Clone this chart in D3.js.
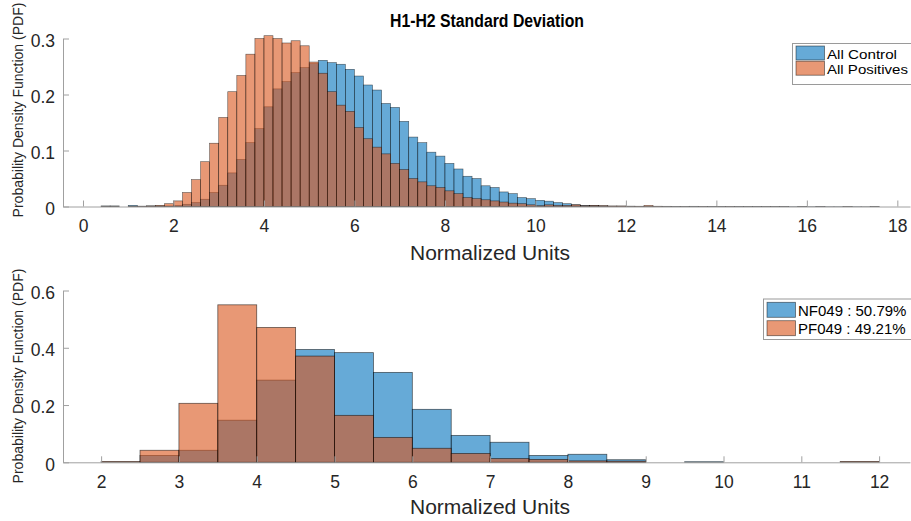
<!DOCTYPE html>
<html>
<head>
<meta charset="utf-8">
<script src="https://cdn.jsdelivr.net/npm/d3@7"></script>
<style>
  html, body { margin: 0; padding: 0; background: #fff; }
  svg { display: block; font-family: "Liberation Sans", Arial, Helvetica, sans-serif; }
</style>
</head>
<body>
<svg id="chart" width="911" height="521"></svg>
<script>
// ---------------- DATA ----------------
const titleText = "H1-H2 Standard Deviation";
const yLabelText = "Probability Density Function (PDF)";
const xLabelText = "Normalized Units";

// Top histogram: bin edges (width 0.2)
const topBinEdges = [0.4,0.6,0.8,1.0,1.2,1.4,1.6,1.8,2.0,2.2,2.4,2.6,2.8,3.0,3.2,3.4,3.6,3.8,4.0,4.2,4.4,4.6,4.8,5.0,5.2,5.4,5.6,5.8,6.0,6.2,6.4,6.6,6.8,7.0,7.2,7.4,7.6,7.8,8.0,8.2,8.4,8.6,8.8,9.0,9.2,9.4,9.6,9.8,10.0,10.2,10.4,10.6,10.8,11.0,11.2,11.4,11.6,11.8,12.0,12.2,12.4,12.6,12.8,13.0,13.2,13.4,13.6,13.8,14.0,14.2,14.4,14.6,14.8,15.0,15.2,15.4,15.6,15.8,16.0,16.2,16.4,16.6,16.8,17.0,17.2,17.4,17.6];
const topControl = [0.001,0.001,0,0.002,0.0005,0.001,0.001,0.001,0.002,0.004,0.007,0.013,0.025,0.038,0.060,0.084,0.114,0.139,0.178,0.210,0.223,0.239,0.248,0.255,0.261,0.257,0.254,0.245,0.233,0.217,0.208,0.184,0.177,0.152,0.124,0.114,0.097,0.090,0.077,0.067,0.054,0.050,0.037,0.034,0.026,0.023,0.016,0.014,0.011,0.0095,0.007,0.005,0.003,0.002,0.002,0.001,0.0005,0.0005,0.0005,0.0003,0.0003,0.0003,0.0004,0.0003,0.0003,0.0004,0.0002,0.0003,0.0003,0.0002,0.0003,0.0002,0.0003,0.0002,0.0002,0.0003,0.0002,0.0002,0.0002,0.0003,0.0002,0.0002,0.0001,0.0002,0.0001,0.0002];
const topPositives = [0.0005,0.0005,0,0.0005,0.0005,0.001,0.002,0.005,0.010,0.025,0.048,0.080,0.113,0.159,0.205,0.234,0.272,0.300,0.305,0.300,0.292,0.296,0.287,0.258,0.238,0.205,0.181,0.170,0.141,0.121,0.106,0.094,0.077,0.066,0.050,0.044,0.037,0.034,0.028,0.023,0.016,0.014,0.012,0.010,0.008,0.006,0.005,0.003,0.0015,0.003,0.002,0.002,0.003,0.0015,0.002,0.0015,0.001,0.001,0.0005,0.0005,0.002,0.0005,0.0003,0.0002,0.0002,0.0001,0.0002,0.0001,0.0001,0.0002,0.0001,0.0001,0.0001,0.0001,0.0001,0.0001,0,0.0001,0,0.0001,0,0,0.0001,0,0,0.0001];
const topSeriesNames = ["All Control", "All Positives"];
const topXTicks = [0,2,4,6,8,10,12,14,16,18];
const topYTicks = [0,0.1,0.2,0.3];
const topXLim = [-0.442, 18.28];
const topYLim = [0, 0.3];

// Bottom histogram: bin edges (width 0.5)
const botBinEdges = [2,2.5,3,3.5,4,4.5,5,5.5,6,6.5,7,7.5,8,8.5,9,9.5,10,10.5,11,11.5,12];
const botNF = [0,0.024,0.042,0.147,0.287,0.394,0.383,0.314,0.185,0.094,0.070,0.024,0.028,0.009,0,0.002,0,0,0,0];
const botPF = [0.003,0.042,0.206,0.550,0.471,0.371,0.164,0.087,0.049,0.031,0.013,0.010,0.005,0.004,0,0,0,0,0,0.003];
const botSeriesNames = ["NF049 : 50.79%", "PF049 : 49.21%"];
const botXTicks = [2,3,4,5,6,7,8,9,10,11,12];
const botYTicks = [0,0.2,0.4,0.6];
const botXLim = [1.51, 12.397];
const botYLim = [0, 0.6];

// ---------------- STYLE ----------------
const blueFill = "rgb(0,114,189)";
const orangeFill = "rgb(217,83,25)";
const faceAlpha = 0.6;
const axisColor = "#a0a0a0";
const textColor = "#262626";
const tickFont = 17.5;

const svg = d3.select("#chart");

function drawPanel(cfg) {
  const x = d3.scaleLinear().domain(cfg.xlim).range([cfg.left, cfg.right]);
  const y = d3.scaleLinear().domain(cfg.ylim).range([cfg.bottom, cfg.top]);
  const g = svg.append("g");

  function bars(values, fill, sw) {
    const data = values.map((v, i) => ({v, x0: cfg.edges[i], x1: cfg.edges[i + 1]})).filter(d => d.v > 0);
    g.append("g").selectAll("rect").data(data).join("rect")
      .attr("x", d => x(d.x0))
      .attr("width", d => x(d.x1) - x(d.x0))
      .attr("y", d => y(d.v))
      .attr("height", d => y(0) - y(d.v))
      .attr("fill", fill)
      .attr("fill-opacity", faceAlpha)
      .attr("stroke", "#000")
      .attr("stroke-opacity", 0.6)
      .attr("stroke-width", sw);
  }
  bars(cfg.s1, blueFill, cfg.sw);
  bars(cfg.s2, orangeFill, cfg.sw);

  // x axis
  const xAxis = d3.axisBottom(x).tickValues(cfg.xticks).tickSizeInner(-6).tickSizeOuter(0)
    .tickPadding(cfg.xPad).tickFormat(d3.format("d"));
  const gx = g.append("g").attr("transform", `translate(0,${cfg.bottom})`).call(xAxis);
  // y axis
  const yAxis = d3.axisLeft(y).tickValues(cfg.yticks).tickSizeInner(-6).tickSizeOuter(0)
    .tickPadding(8).tickFormat(d => d === 0 ? "0" : d3.format(".1f")(d));
  const gy = g.append("g").attr("transform", `translate(${cfg.left},0)`).call(yAxis);

  [gx, gy].forEach(a => {
    a.select(".domain").attr("stroke", axisColor).attr("stroke-width", 1);
    a.selectAll(".tick line").attr("stroke", axisColor).attr("stroke-width", 1);
    a.selectAll(".tick text").attr("fill", textColor).style("font-size", tickFont + "px");
  });
  gy.selectAll(".tick text").attr("dy", "0.45em");
  gx.selectAll(".tick text").attr("dy", "0.71em");

  // x label
  g.append("text").attr("x", cfg.xLabelX).attr("y", cfg.xLabelY)
    .attr("text-anchor", "middle").attr("fill", textColor)
    .attr("textLength", 160).attr("lengthAdjust", "spacingAndGlyphs")
    .style("font-size", "20px").text(xLabelText);
  // y label
  g.append("text")
    .attr("transform", `translate(${cfg.yLabelX},${cfg.yLabelY}) rotate(-90)`)
    .attr("text-anchor", "middle").attr("fill", textColor)
    .style("font-size", "14px").text(yLabelText);

  // legend
  const L = cfg.legend;
  const lg = g.append("g");
  lg.append("rect").attr("x", L.x).attr("y", L.y).attr("width", L.w).attr("height", L.h)
    .attr("fill", "#fff").attr("stroke", "#9a9a9a").attr("stroke-width", 1);
  cfg.names.forEach((name, i) => {
    const py = L.y + L.pad + i * L.row;
    lg.append("rect").attr("x", L.x + 3.5).attr("y", py).attr("width", 28.5).attr("height", L.ph)
      .attr("fill", i === 0 ? blueFill : orangeFill).attr("fill-opacity", faceAlpha)
      .attr("stroke", "#000").attr("stroke-opacity", 0.55).attr("stroke-width", 0.8);
    const t = lg.append("text").attr("x", L.x + 34.5).attr("y", py + L.ph - 1.5)
      .attr("fill", "#000").style("font-size", L.fs + "px").text(name);
    if (L.lens) t.attr("textLength", L.lens[i]).attr("lengthAdjust", "spacingAndGlyphs");
  });
}

drawPanel({
  edges: topBinEdges, s1: topControl, s2: topPositives, names: topSeriesNames,
  xlim: topXLim, ylim: topYLim, xticks: topXTicks, yticks: topYTicks,
  left: 63, right: 910, top: 38.5, bottom: 206.5, sw: 0.6, xPad: 13.5,
  xLabelX: 490, xLabelY: 260, yLabelX: 23, yLabelY: 110,
  legend: {x: 792.5, y: 43.5, w: 120, h: 41, pad: 2.5, row: 15.2, ph: 14, fs: 12.5, lens: [70, 81]}
});

drawPanel({
  edges: botBinEdges, s1: botNF, s2: botPF, names: botSeriesNames,
  xlim: botXLim, ylim: botYLim, xticks: botXTicks, yticks: botYTicks,
  left: 63, right: 910, top: 290.5, bottom: 462.3, sw: 0.8, xPad: 13.5,
  xLabelX: 490, xLabelY: 514, yLabelX: 23, yLabelY: 376,
  legend: {x: 763.5, y: 299, w: 150, h: 40.5, pad: 3.3, row: 18.4, ph: 15, fs: 15}
});

// title
svg.append("text").attr("x", 487).attr("y", 27)
  .attr("text-anchor", "middle").attr("fill", "#000")
  .attr("textLength", 194).attr("lengthAdjust", "spacingAndGlyphs")
  .style("font-size", "18px").style("font-weight", "bold").text(titleText);
</script>
</body>
</html>
